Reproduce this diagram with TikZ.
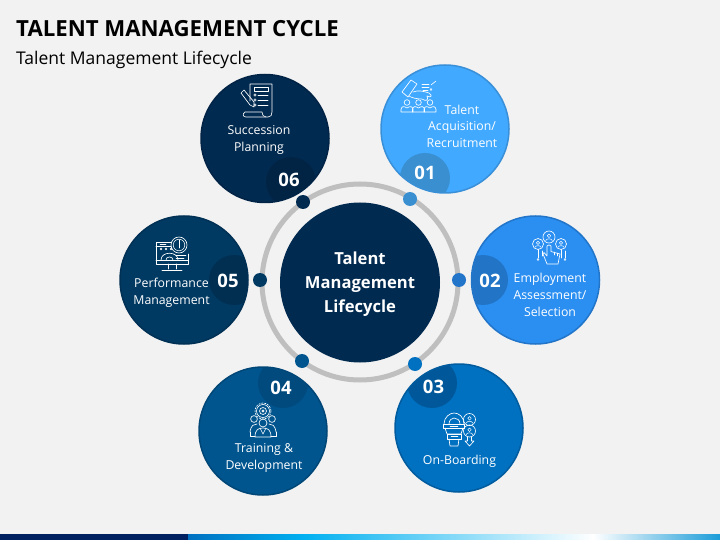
\documentclass[tikz,border=0pt]{standalone}
\usepackage{fontspec}
\setmainfont{Open Sans}
\definecolor{bgc}{HTML}{F2F2F2}
\definecolor{cA}{HTML}{41A9FF}\definecolor{eA}{HTML}{3A90D8}\definecolor{bA}{HTML}{398FD0}
\definecolor{cB}{HTML}{2B8FF2}\definecolor{eB}{HTML}{2275C8}\definecolor{bB}{HTML}{2275C6}
\definecolor{cC}{HTML}{0070C0}\definecolor{eC}{HTML}{005C9E}\definecolor{bC}{HTML}{00589A}
\definecolor{cD}{HTML}{00558F}\definecolor{eD}{HTML}{004777}\definecolor{bD}{HTML}{004A7E}
\definecolor{cE}{HTML}{003A63}\definecolor{eE}{HTML}{003054}\definecolor{bE}{HTML}{012F52}
\definecolor{cF}{HTML}{012A50}\definecolor{eF}{HTML}{012345}\definecolor{bF}{HTML}{012445}
\definecolor{ringc}{HTML}{BFBFBF}
\definecolor{barD}{HTML}{002060}\definecolor{barM}{HTML}{00B0F0}\definecolor{barE}{HTML}{1B9CD8}
\tikzset{
 petal/.style={circle,minimum size=128pt,inner sep=0pt,line width=1.5pt},
 lab/.style={text=white,font=\fontsize{12.3}{17}\selectfont,align=center,inner sep=0pt},
 num/.style={text=white,font=\fontsize{18.5}{20}\selectfont\bfseries,inner sep=0pt},
 dotn/.style={circle,minimum size=14pt,inner sep=0pt},
 ico/.style={draw=white,line width=0.65pt,line join=round,line cap=round},
}
\newcommand{\persn}[3]{% x,y,scale : head + shoulders
 \draw[ico] (#1,#2) circle (2.8*#3);
 \draw[ico] (#1-6*#3,#2+9.5*#3) -- (#1-6*#3,#2+7*#3) .. controls (#1-5.5*#3,#2+3.5*#3) and (#1-3*#3,#2+3.5*#3) .. (#1,#2+5.5*#3) .. controls (#1+3*#3,#2+3.5*#3) and (#1+5.5*#3,#2+3.5*#3) .. (#1+6*#3,#2+7*#3) -- (#1+6*#3,#2+9.5*#3) -- cycle;}
\newcommand{\ringp}[3]{% x,y,r
 \draw[ico] (#1,#2) circle (#3);
 \draw[ico,line width=0.5pt] (#1,#2-0.2*#3) circle (0.3*#3);
 \draw[ico,line width=0.5pt] (#1-0.55*#3,#2+0.6*#3) .. controls (#1-0.45*#3,#2+0.2*#3) and (#1+0.45*#3,#2+0.2*#3) .. (#1+0.55*#3,#2+0.6*#3);}
\begin{document}
\begin{tikzpicture}[x=1pt,y=-1pt]
\useasboundingbox (0,0) rectangle (720,540);
\fill[bgc] (0,0) rectangle (720,540);
\fill[left color=cC,right color=barM] (188,534) rectangle (303.5,540);
\fill[left color=barM,right color=white] (303,534) rectangle (593.5,540);
\fill[left color=white,right color=barE] (593,534) rectangle (720,540);
\fill[barD] (0,534) rectangle (188,540);
\node[anchor=west,inner sep=0pt,font=\fontsize{22.2}{24}\selectfont\bfseries] (ttl) at (16,29) {TALENT MANAGEMENT CYCLE};
\node[anchor=west,inner sep=0pt,font=\fontsize{17.5}{20}\selectfont] (sub) at (16,60) {Talent Management Lifecycle};
% ring
\draw[ringc,line width=5pt] (360,282) circle (98);
\node[circle,fill=cF,minimum size=160pt,inner sep=0pt] (hub) at (360,282.5) {};
\node[text=white,align=center,inner sep=0pt,font=\fontsize{16.6}{24}\selectfont\bfseries] (hubt) at (360,284) {Talent\\Management\\Lifecycle};
% petals
\node[petal,fill=cA,draw=eA] (p1) at (445,129) {};
\node[petal,fill=cB,draw=eB] (p2) at (535.5,280) {};
\node[petal,fill=cC,draw=eC] (p3) at (459,428) {};
\node[petal,fill=cD,draw=eD] (p4) at (263,431) {};
\node[petal,fill=cE,draw=eE] (p5) at (184,280) {};
\node[petal,fill=cF,draw=eF] (p6) at (265,138.5) {};
% badges
\begin{scope}\clip (p1) circle (63.5); \fill[bA] (425,178) circle (25);\end{scope}
\begin{scope}\clip (p2) circle (63.5); \fill[bB] (483,280) circle (25);\end{scope}
\begin{scope}\clip (p3) circle (63.5); \fill[bC] (432,383) circle (25);\end{scope}
\begin{scope}\clip (p4) circle (63.5); \fill[bD] (283,383) circle (25);\end{scope}
\begin{scope}\clip (p5) circle (63.5); \fill[bE] (234,280) circle (25);\end{scope}
\begin{scope}\clip (p6) circle (63.5); \fill[bF] (291,182) circle (25);\end{scope}
\node[num] (n1) at (425,173) {01};
\node[num] (n2) at (490,281) {02};
\node[num] (n3) at (433.5,387) {03};
\node[num] (n4) at (281,387.5) {04};
\node[num] (n5) at (228,281) {05};
\node[num] (n6) at (289,180) {06};
% dots
\node[dotn,fill=bA] (d1) at (410,199) {};
\node[dotn,fill=eB] (d2) at (459,280) {};
\node[dotn,fill=cC] (d3) at (415,364) {};
\node[dotn,fill=cD] (d4) at (302,361) {};
\node[dotn,fill=cE] (d5) at (260,280) {};
\node[dotn,fill=cF] (d6) at (303,202) {};
% labels
\node[lab] (l1a) at (462,110) {Talent};
\node[lab] (l1b) at (462,135) {Acquisition/\\Recruitment};
\node[lab] (l2) at (550,294.5) {Employment\\Assessment/\\Selection};
\node[lab] (l3) at (459.5,461.5) {On-Boarding};
\node[lab] (l4) at (264,458) {Training \&\\Development};
\node[lab] (l5) at (171.5,292.5) {Performance\\Management};
\node[lab] (l6) at (259,139.5) {Succession\\Planning};
% icon 06: checklist and pen
\draw[ico] (245,112) .. controls (242,114) and (243,117) .. (246,117) -- (268,117) .. controls (271,117) and (272,115) .. (272,112) -- (272,84) -- (250,84) -- (250,101);
\draw[ico] (245,112) -- (262,112) .. controls (263,116) and (263,116) .. (266,117);
\draw[ico] (254,87.5) rectangle (268,91);
\foreach \yy in {95,100,105} {\draw[ico,line width=0.5pt] (255,\yy) circle (1.3); \draw[ico,line width=0.6pt] (258,\yy) -- (268,\yy);}
\draw[ico] (241,93) -- (244,90) -- (254,102) -- (254,107) -- (250,105) -- cycle;
% icon 01: hand, papers, people
\draw[ico] (402,92) -- (411,80) -- (417,84) -- (408,97) -- cycle;
\draw[ico] (413,92) .. controls (418,90) and (423,91) .. (429,93) .. controls (433,96) and (431,98) .. (427,96) .. controls (429,100) and (426,102) .. (422,99) .. controls (417,99) and (412,98) .. (409,96);
\draw[ico,line width=0.7pt] (422,84) -- (429,84) (422,87) -- (429,87) (423,90) -- (428,90);
\draw[ico,line width=0.6pt] (431,85) -- (436,81) (431,89.5) circle (1);
\persn{407}{102.5}{1}\persn{418.5}{102.5}{1}\persn{430}{102.5}{1}
% icon 02: hand and three people
\ringp{549}{237}{6}\ringp{538}{244}{5.5}\ringp{561}{244}{5.5}
\draw[ico,line width=0.6pt] (538,249.5) -- (538,258) (561,249.5) -- (561,258) (542,251) -- (542,256) (565,251) -- (565,258);
\draw[ico,line width=0.6pt] (538,259.5) circle (1) (565,259.5) circle (1);
\draw[ico] (547,246) -- (547,256) -- (544,252.5) -- (543,254) -- (547,264) -- (558,264) -- (560,254) -- (551,251.5) -- (551,246) .. controls (550,244.5) and (548,244.5) .. (547,246);
\draw[ico,line width=0.5pt] (554,252) -- (554,255) (557,253) -- (557,256);
% icon 03: funnel, gear, people
\draw[ico] (444,424) .. controls (444,417) and (450,413) .. (454,413) .. controls (459,413) and (464,417) .. (464,424);
\draw[ico] (449,424) .. controls (449,420) and (452,418) .. (454,418) .. controls (457,418) and (460,420) .. (460,424);
\draw[ico] (443,424) rectangle (464,428);
\draw[ico] (445,428) -- (447,434) -- (461,434) -- (463,428);
\draw[ico] (447,434) rectangle (461,439);
\draw[ico] (449,439) -- (450,446) -- (458,446) -- (459,439);
\draw[ico,line width=0.4pt] (450,426) -- (458,426) (451,436.5) -- (458,436.5);
\ringp{469.5}{419.5}{6}\ringp{469.5}{431}{6}
\draw[ico] (467.5,437) -- (467.5,441) -- (465,441) -- (469.5,446) -- (474,441) -- (471.5,441) -- (471.5,437);
% icon 04: target gear and team
\draw[ico] (263,411) circle (6.5) (263,411) circle (3.5) (263,411) circle (1.2);
\draw[ico,dash pattern=on 1.5pt off 1.5pt] (263,411) circle (8);
\draw[ico] (254,419) circle (3.4) (263,423) circle (4) (272,419) circle (3.4);
\draw[ico] (250,432) .. controls (251,425) and (254,424) .. (257,424);
\draw[ico] (276,432) .. controls (275,425) and (272,424) .. (269,424);
\draw[ico] (250,432) -- (250,436) -- (255,436) (276,432) -- (276,436) -- (271,436);
\draw[ico] (255,437) .. controls (255,430) and (258,428) .. (263,428) .. controls (268,428) and (271,430) .. (271,437) -- cycle;
\draw[ico,line width=0.5pt] (260,428) -- (263,434) -- (266,428);
% icon 05: monitor and gauge
\draw[ico] (171,242) -- (156,242) -- (156,264) -- (188,264) -- (188,254);
\draw[ico] (156,246) -- (171,246);
\draw[ico] (156,260.5) -- (188,260.5);
\draw[ico] (168,264) -- (168,269) (176,264) -- (176,269) (162,270) -- (182,270);
\draw[ico,line width=0.5pt] (160,244) -- (166,244);
\foreach \xx in {161,166,171} \draw[ico,line width=0.6pt] (\xx,249) circle (1);
\draw[ico] (161,260) .. controls (161,251) and (178,251) .. (178,260);
\draw[ico] (166,260) .. controls (166,256) and (173,256) .. (173,260);
\draw[ico] (179,245) circle (8);
\draw[ico,line width=0.5pt] (179,245) circle (5.8);
\draw[ico] (179,240) -- (179,248);
\draw[ico,line width=0.5pt] (176,255.5) -- (186,255.5) (176,258) -- (184,258);
\end{tikzpicture}
\end{document}
